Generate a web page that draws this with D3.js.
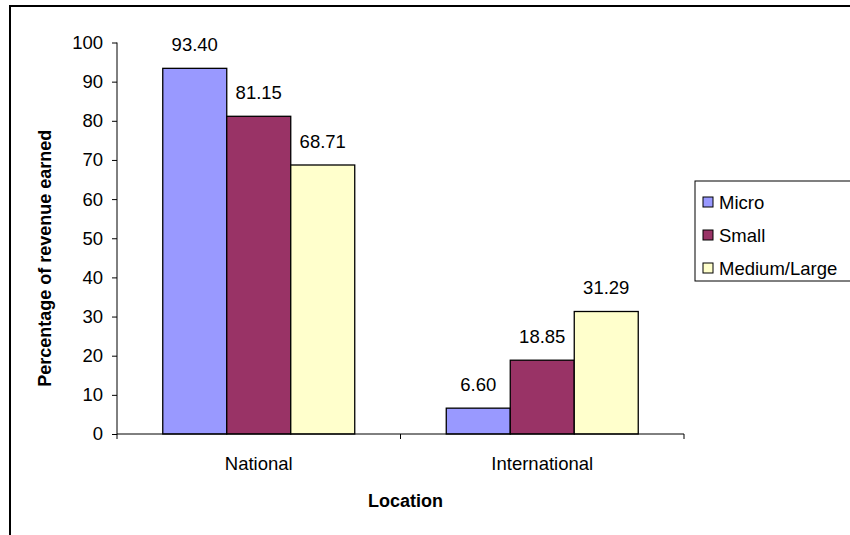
<!DOCTYPE html>
<html>
<head>
<meta charset="utf-8">
<script src="https://cdn.jsdelivr.net/npm/d3@7"></script>
<style>
  html, body { margin: 0; padding: 0; background: #fff; }
  svg { display: block; font-family: "Liberation Sans", Arial, sans-serif; }
</style>
</head>
<body>
<svg id="chart" width="850" height="535"></svg>
<script>
// Share of revenue earned by location, per enterprise size
const locations = ["National", "International"];
const sizes = ["Micro", "Small", "Medium/Large"];
const micro = [93.40, 6.60];
const small = [81.15, 18.85];
const mediumLarge = [68.71, 31.29];
const yTicks = [0, 10, 20, 30, 40, 50, 60, 70, 80, 90, 100];
const colors = ["#9999FF", "#993366", "#FFFFCC"];

const seriesValues = [micro, small, mediumLarge];

const svg = d3.select("#chart");

// outer frame (top and left edges visible)
svg.append("path")
  .attr("d", "M10,860 L10,6 L860,6")
  .attr("fill", "none")
  .attr("stroke", "#000")
  .attr("stroke-width", 2);

const plot = { left: 117, right: 684, top: 42.5, bottom: 434 };
const fontSize = 18.5;
const titleSize = 18;

const x0 = d3.scaleBand()
  .domain(locations)
  .range([plot.left, plot.right])
  .paddingInner(0)
  .paddingOuter(0);

const x1 = d3.scaleBand()
  .domain(sizes)
  .range([0, x0.bandwidth()])
  .paddingOuter(0.715)
  .paddingInner(0);

const y = d3.scaleLinear()
  .domain([0, 100])
  .range([plot.bottom, plot.top]);

// bars
const groups = svg.append("g").selectAll("g")
  .data(locations)
  .join("g")
  .attr("transform", d => `translate(${x0(d)},0)`);

groups.selectAll("rect")
  .data((loc, i) => sizes.map((s, j) => ({ size: s, value: seriesValues[j][i], j })))
  .join("rect")
  .attr("x", d => x1(d.size))
  .attr("y", d => y(d.value))
  .attr("width", x1.bandwidth())
  .attr("height", d => y(0) - y(d.value))
  .attr("fill", d => colors[d.j])
  .attr("stroke", "#000")
  .attr("stroke-width", 1.3);

// value labels
groups.selectAll("text")
  .data((loc, i) => sizes.map((s, j) => ({ size: s, value: seriesValues[j][i] })))
  .join("text")
  .attr("x", d => x1(d.size) + x1.bandwidth() / 2)
  .attr("y", d => y(d.value) - 17)
  .attr("text-anchor", "middle")
  .attr("font-size", fontSize)
  .attr("fill", "#000")
  .text(d => d.value.toFixed(2));

// y axis
const yAxis = svg.append("g")
  .attr("transform", `translate(${plot.left},0)`)
  .call(d3.axisLeft(y).tickValues(yTicks).tickSize(5).tickPadding(9).tickFormat(d3.format("d")));
yAxis.selectAll("text").attr("font-size", fontSize).attr("fill", "#000")
  .attr("font-family", "Liberation Sans, Arial, sans-serif");
yAxis.select(".domain").attr("d", `M0,${plot.top}V${plot.bottom}`).attr("stroke", "#000");
yAxis.selectAll(".tick line").attr("stroke", "#000");

// x axis with ticks between categories
const xAxis = svg.append("g")
  .attr("transform", `translate(0,${plot.bottom})`);
xAxis.append("line")
  .attr("x1", plot.left).attr("x2", plot.right)
  .attr("y1", 0).attr("y2", 0)
  .attr("stroke", "#000");
const boundaries = [plot.left].concat(locations.map(d => x0(d) + x0.bandwidth()));
xAxis.selectAll("line.tick")
  .data(boundaries)
  .join("line")
  .attr("class", "tick")
  .attr("x1", d => d).attr("x2", d => d)
  .attr("y1", 0).attr("y2", 5)
  .attr("stroke", "#000");
xAxis.selectAll("text")
  .data(locations)
  .join("text")
  .attr("x", d => x0(d) + x0.bandwidth() / 2)
  .attr("y", 36)
  .attr("text-anchor", "middle")
  .attr("font-size", fontSize)
  .text(d => d);

// axis titles
svg.append("text")
  .attr("x", (plot.left + plot.right) / 2 + 5)
  .attr("y", 507)
  .attr("text-anchor", "middle")
  .attr("font-size", titleSize)
  .attr("font-weight", "bold")
  .text("Location");

svg.append("text")
  .attr("transform", `translate(51,${(plot.top + plot.bottom) / 2 + 20}) rotate(-90)`)
  .attr("text-anchor", "middle")
  .attr("font-size", titleSize)
  .attr("font-weight", "bold")
  .text("Percentage of revenue earned");

// legend
const legend = svg.append("g").attr("transform", "translate(695,181)");
legend.append("rect")
  .attr("x", 0).attr("y", 0)
  .attr("width", 170).attr("height", 100)
  .attr("fill", "#fff")
  .attr("stroke", "#000")
  .attr("stroke-width", 1);
const items = legend.selectAll("g.item")
  .data(sizes)
  .join("g")
  .attr("class", "item")
  .attr("transform", (d, i) => `translate(8,${21 + i * 33})`);
items.append("rect")
  .attr("x", 0).attr("y", -5)
  .attr("width", 10).attr("height", 10)
  .attr("fill", (d, i) => colors[i])
  .attr("stroke", "#000");
items.append("text")
  .attr("x", 16)
  .attr("y", 7)
  .attr("font-size", fontSize)
  .text(d => d);
</script>
</body>
</html>
